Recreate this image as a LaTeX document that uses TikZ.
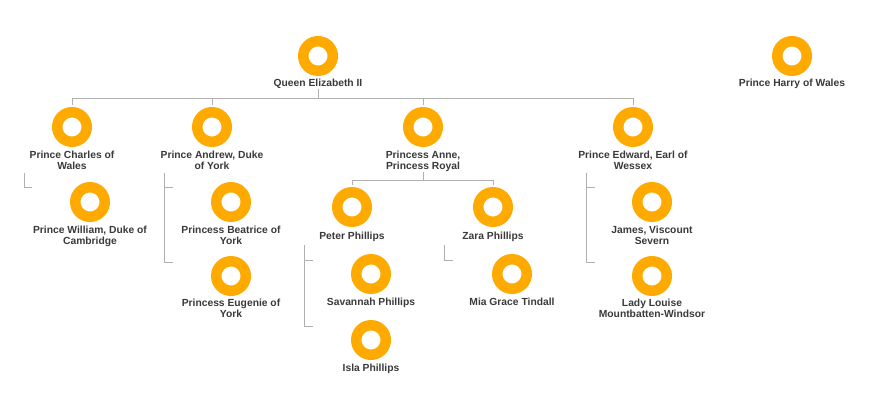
\documentclass[tikz,border=0pt]{standalone}
\usepackage{fontspec}
\setmainfont{Liberation Sans}
\definecolor{ringc}{HTML}{FFAA00}
\definecolor{txtc}{HTML}{3A3A3A}
\definecolor{lnc}{HTML}{B0B0B0}
\begin{document}
\begin{tikzpicture}[x=1pt,y=-1pt,
  ring/.style={circle, draw=ringc, line width=10.5pt, minimum size=29.5pt, inner sep=0pt},
  lbl/.style={font=\bfseries\fontsize{10.3}{11}\selectfont, text=txtc, align=center, inner sep=0pt, anchor=base},
  conn/.style={draw=lnc, line width=0.9pt}]
\fill[white] (0,0) rectangle (895,417);
\useasboundingbox (0,0) rectangle (895,417);

% connector end points
\coordinate (qbus) at (318,98);
\coordinate (nbus) at (423,180);
\coordinate (cv) at (24,173);
\coordinate (wt) at (32,187);
\coordinate (av) at (164,173);
\coordinate (bt) at (173,187);
\coordinate (gt) at (173,262);
\coordinate (pv) at (304,245);
\coordinate (st) at (313,260);
\coordinate (it) at (313,326);
\coordinate (zv) at (444,245);
\coordinate (mt) at (453,260);
\coordinate (ev) at (586,173);
\coordinate (jt) at (595,187);
\coordinate (lt) at (595,262);

% rings
\node[ring] (q) at (318,56) {};
\node[ring] (h) at (792,56) {};
\node[ring] (c) at (72,127) {};
\node[ring] (a) at (212,127) {};
\node[ring] (n) at (423,127) {};
\node[ring] (e) at (633,127) {};
\node[ring] (w) at (90,202) {};
\node[ring] (b) at (231,202) {};
\node[ring] (g) at (231,276) {};
\node[ring] (p) at (352,207) {};
\node[ring] (z) at (493,207) {};
\node[ring] (s) at (371,274) {};
\node[ring] (i) at (371,340) {};
\node[ring] (m) at (512,274) {};
\node[ring] (j) at (652,202) {};
\node[ring] (l) at (652,276) {};

% labels (base = baseline of last line)
\node[lbl] (qL) at (318,87) {Queen Elizabeth II};
\node[lbl] (hL) at (792,87) {Prince Harry of Wales};
\node[lbl] (cL) at (72,169.5) {Prince Charles of\\Wales};
\node[lbl] (aL) at (212,169.5) {Prince Andrew, Duke\\of York};
\node[lbl] (nL) at (423,169.5) {Princess Anne,\\Princess Royal};
\node[lbl] (eL) at (633,169.5) {Prince Edward, Earl of\\Wessex};
\node[lbl] (wL) at (90,244) {Prince William, Duke of\\Cambridge};
\node[lbl] (bL) at (231,244) {Princess Beatrice of\\York};
\node[lbl] (gL) at (231,317.5) {Princess Eugenie of\\York};
\node[lbl] (pL) at (352,239.5) {Peter Phillips};
\node[lbl] (zL) at (493,239.5) {Zara Phillips};
\node[lbl] (sL) at (371,305) {Savannah Phillips};
\node[lbl] (iL) at (371,371.5) {Isla Phillips};
\node[lbl] (mL) at (512,305) {Mia Grace Tindall};
\node[lbl] (jL) at (652,244) {James, Viscount\\Severn};
\node[lbl] (lL) at (652,317.5) {Lady Louise\\Mountbatten-Windsor};

% connectors
\draw[conn] (qL.south) -- (qbus);
\draw[conn] (qbus) -| ([yshift=2pt]c.north);
\draw[conn] (qbus) -| ([yshift=2pt]a.north);
\draw[conn] (qbus) -| ([yshift=2pt]n.north);
\draw[conn] (qbus) -| ([yshift=2pt]e.north);
\draw[conn] (nL.south) -- (nbus);
\draw[conn] (nbus) -| ([yshift=2pt]p.north);
\draw[conn] (nbus) -| ([yshift=2pt]z.north);
\draw[conn] (cv) |- (wt);
\draw[conn] (av) |- (bt);
\draw[conn] (av) |- (gt);
\draw[conn] (pv) |- (st);
\draw[conn] (pv) |- (it);
\draw[conn] (zv) |- (mt);
\draw[conn] (ev) |- (jt);
\draw[conn] (ev) |- (lt);
\end{tikzpicture}
\end{document}
